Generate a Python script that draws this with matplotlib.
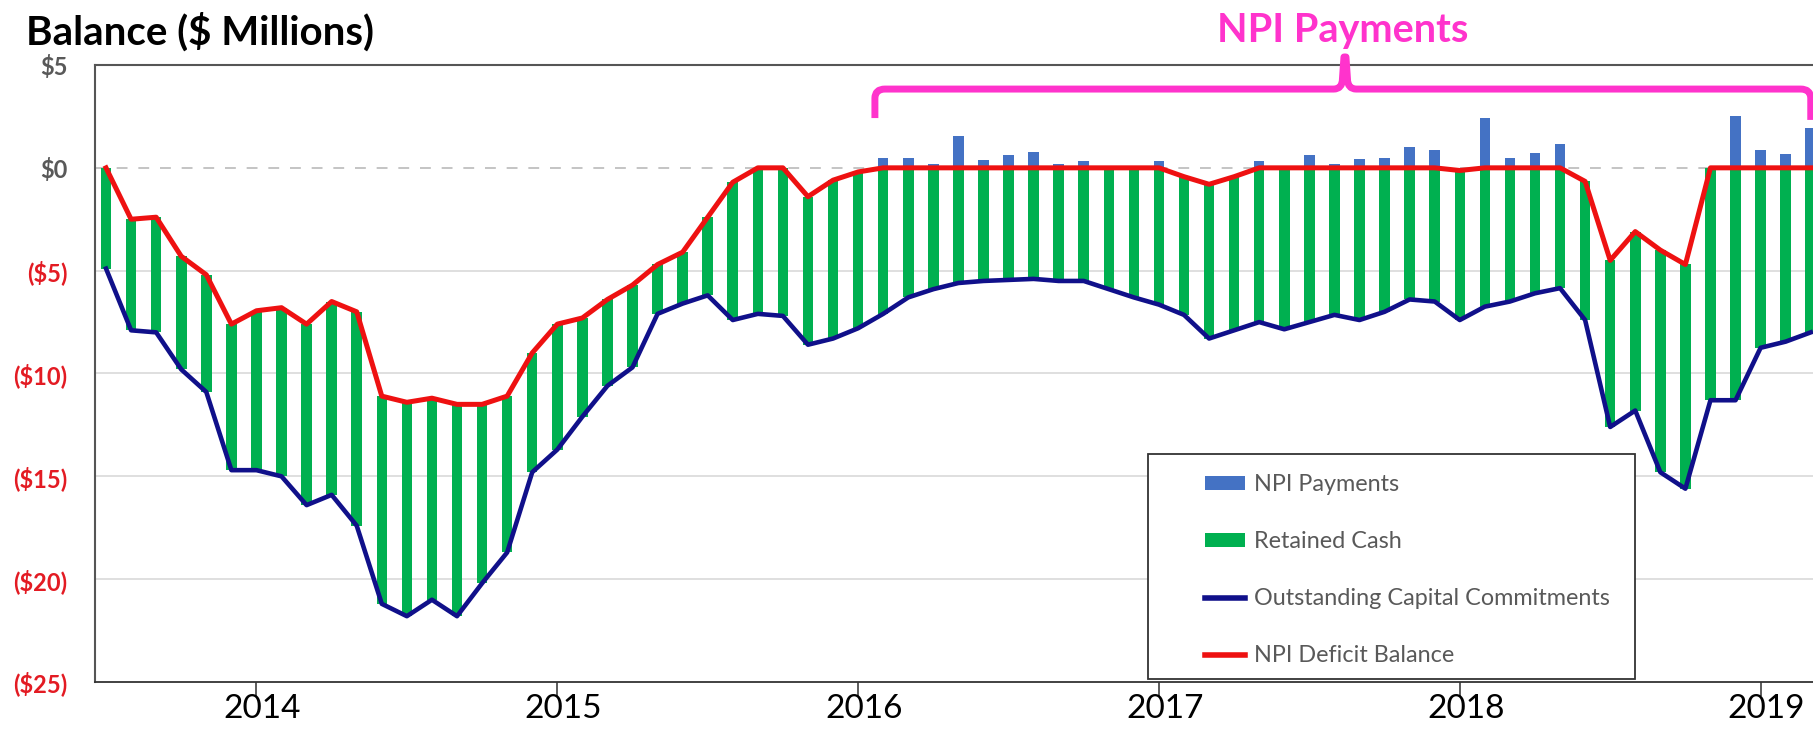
import matplotlib
matplotlib.use('Agg')
import matplotlib.pyplot as plt
import matplotlib.transforms as mtransforms
import numpy as np
import pandas as pd
from matplotlib.path import Path
from matplotlib.patches import PathPatch, Rectangle, Patch
from matplotlib.lines import Line2D

plt.rcParams['font.family'] = ['Lato', 'DejaVu Sans']

# ---------------- data ----------------
months = pd.date_range('2013-07-01', periods=69, freq='MS')

deficit = [0, -2.5, -2.4, -4.3, -5.2, -7.6, -6.95, -6.8, -7.6, -6.5, -7.0,
           -11.1, -11.4, -11.2, -11.5, -11.5, -11.1, -9.0, -7.6, -7.3, -6.4,
           -5.7, -4.7, -4.1, -2.4, -0.7, 0, 0, -1.4, -0.6, -0.2,
           0, 0, 0, 0, 0, 0, 0, 0, 0, 0, 0, 0,
           -0.43, -0.8, -0.43,
           0, 0, 0, 0, 0, 0, 0, 0,
           -0.13, 0, 0, 0, 0,
           -0.66, -4.5, -3.1, -4.0, -4.7,
           0, 0, 0, 0, 0]

commitments = [-4.9, -7.9, -8.0, -9.8, -10.9, -14.7, -14.7, -15.0, -16.4, -15.9, -17.4,
               -21.2, -21.8, -21.0, -21.8, -20.2, -18.7, -14.8, -13.7, -12.1, -10.6,
               -9.7, -7.1, -6.6, -6.2, -7.4, -7.1, -7.2, -8.6, -8.3, -7.8,
               -7.1, -6.3, -5.9, -5.6, -5.5, -5.45, -5.4, -5.5, -5.5, -5.9, -6.3, -6.65,
               -7.15, -8.3, -7.9,
               -7.5, -7.85, -7.5, -7.15, -7.4, -7.0, -6.4, -6.5,
               -7.4, -6.75, -6.5, -6.1, -5.85,
               -7.4, -12.6, -11.8, -14.8, -15.6,
               -11.3, -11.3, -8.75, -8.45, -8.0]

payments = [0, 0, 0, 0, 0, 0, 0, 0, 0, 0, 0,
            0, 0, 0, 0, 0, 0, 0, 0, 0, 0,
            0, 0, 0, 0, 0, 0, 0, 0, 0, 0,
            0.5, 0.5, 0.2, 1.55, 0.4, 0.6, 0.75, 0.2, 0.35, 0, 0, 0.35,
            0, 0, 0,
            0.35, 0, 0.6, 0.2, 0.45, 0.5, 1.0, 0.85,
            0, 2.4, 0.5, 0.7, 1.15,
            0, 0, 0, 0, 0,
            0, 2.5, 0.85, 0.65, 1.95]

y_ticks = [5, 0, -5, -10, -15, -20, -25]
y_tick_labels = ['$5', '$0', '($5)', '($10)', '($15)', '($20)', '($25)']
series_labels = ['NPI Payments', 'Retained Cash',
                 'Outstanding Capital Commitments', 'NPI Deficit Balance']

# ---------------- colours ----------------
C_GREEN = '#00B050'
C_BLUEBAR = '#4472C4'
C_NAVY = '#10108A'
C_RED = '#EE1111'
C_MAGENTA = '#FF33CC'
C_NEG = '#E31B23'
C_GREY = '#595959'

W, H = 1813, 732
fig = plt.figure(figsize=(W / 100, H / 100), dpi=100)
ax = fig.add_axes([95 / W, 50 / H, 1 - 95 / W, 617 / H])

x = np.arange(len(months))
dec = np.array(deficit)
com = np.array(commitments)

ax.bar(x, dec - com, bottom=com, width=0.42, color=C_GREEN, zorder=3, linewidth=0)
ax.bar(x, payments, bottom=0, width=0.42, color=C_BLUEBAR, zorder=3, linewidth=0)
ax.plot(x, com, color=C_NAVY, lw=3.3, zorder=4, solid_joinstyle='round')
ax.plot(x, dec, color=C_RED, lw=3.6, zorder=5, solid_joinstyle='round')

for v in [-5, -10, -15, -20]:
    ax.axhline(v, color='#D9D9D9', lw=1.2, zorder=1)
ax.axhline(0, color='#BFBFBF', lw=1.3, ls=(0, (6, 6)), zorder=1)

ax.set_xlim(-0.44, 68.09)
ax.set_ylim(-25, 5)

jan = [i for i, m in enumerate(months) if m.month == 1]
ax.set_xticks(jan)
ax.set_xticklabels([str(months[i].year) for i in jan], fontsize=24, color='black')
ax.tick_params(axis='x', length=10, width=1.2, color='#404040', pad=-1.5)
shift = mtransforms.ScaledTranslation(6 / 100, 0, fig.dpi_scale_trans)
for lab in ax.get_xticklabels():
    lab.set_transform(lab.get_transform() + shift)

ax.set_yticks(y_ticks)
ax.set_yticklabels(y_tick_labels, fontsize=17, fontweight='bold')
ax.tick_params(axis='y', length=0, pad=20)
for lab, v in zip(ax.get_yticklabels(), y_ticks):
    lab.set_color(C_GREY if v >= 0 else C_NEG)

for side in ['left', 'top']:
    ax.spines[side].set_color('#555555')
    ax.spines[side].set_linewidth(1.5)
ax.spines['bottom'].set_color('#333333')
ax.spines['bottom'].set_linewidth(1.3)
ax.spines['right'].set_visible(False)

# ---------------- title / annotation ----------------
fig.text(26 / W, (H - 45) / H, 'Balance ($ Millions)', fontsize=29,
         fontweight='bold', ha='left', va='baseline', color='black')
fig.text(1343 / W, (H - 42) / H, 'NPI Payments', fontsize=28.5,
         fontweight='bold', ha='center', va='baseline', color=C_MAGENTA)

L, R, C = 30.67, 68.0, 49.42
yh, yl_l, yl_r, ytop = 3.83, 2.42, 2.33, 5.39
dx, dy = 0.4, 0.45
verts = [(L, yl_l), (L, yh - dy), (L, yh), (L + dx, yh),
         (C - 0.45, yh), (C - 0.1, yh), (C - 0.1, yh + 0.5),
         (C - 0.04, ytop), (C + 0.04, ytop), (C + 0.1, yh + 0.5),
         (C + 0.1, yh), (C + 0.45, yh),
         (R - dx, yh), (R, yh), (R, yh - dy), (R, yl_r)]
codes = [Path.MOVETO, Path.LINETO, Path.CURVE3, Path.CURVE3,
         Path.LINETO, Path.CURVE3, Path.CURVE3,
         Path.LINETO, Path.LINETO, Path.LINETO,
         Path.CURVE3, Path.CURVE3,
         Path.LINETO, Path.CURVE3, Path.CURVE3, Path.LINETO]
brace = PathPatch(Path(verts, codes), fill=False, edgecolor=C_MAGENTA, lw=5,
                  capstyle='butt', joinstyle='round', clip_on=False, zorder=6,
                  transform=ax.transData)
ax.add_patch(brace)

# ---------------- legend ----------------
frame = Rectangle((1148 / W, (H - 679) / H), (1635 - 1148) / W, (679 - 454) / H,
                  transform=fig.transFigure, facecolor='white', edgecolor='#333333',
                  lw=1.3, zorder=2)
fig.add_artist(frame)

handles = [Patch(facecolor=C_BLUEBAR), Patch(facecolor=C_GREEN),
           Line2D([], [], color=C_NAVY, lw=4), Line2D([], [], color=C_RED, lw=4)]
leg = fig.legend(handles, series_labels, loc='upper left',
                 bbox_to_anchor=(1205 / W, (H - 474) / H), frameon=False,
                 fontsize=16.8, labelcolor=C_GREY, handlelength=1.7,
                 handletextpad=0.4, labelspacing=1.55, borderpad=0,
                 borderaxespad=0, handleheight=0.55)
leg.set_zorder(3)

fig.savefig('out.png', dpi=100)
